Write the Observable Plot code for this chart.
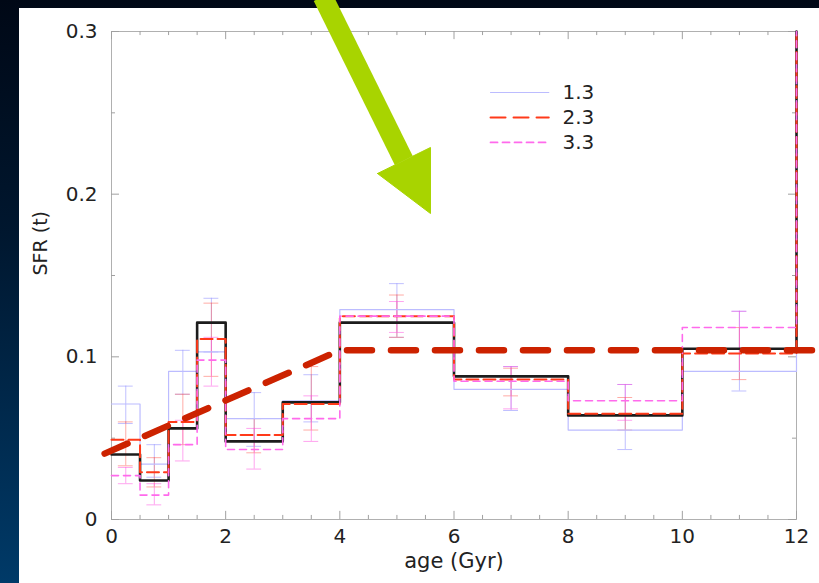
<!DOCTYPE html>
<html>
<head>
<meta charset="utf-8">
<script src="https://cdn.jsdelivr.net/npm/d3@7"></script>
<script src="https://cdn.jsdelivr.net/npm/@observablehq/plot@0.6"></script>
<style>
  html, body { margin: 0; padding: 0; width: 819px; height: 583px; overflow: hidden; }
  body { background: linear-gradient(to bottom, #000816 0%, #00172f 40%, #003a68 100%); position: relative; }
  #panel { position: absolute; left: 19px; top: 8px; right: 0; bottom: 0; background: #ffffff; }
  #chart { position: absolute; left: 0; top: 0; }
</style>
</head>
<body>
<div id="panel"></div>
<div id="chart"></div>
<script>
// ---- data ----
const binEdges = [0, 0.5, 1, 1.5, 2, 3, 4, 6, 8, 10, 12];
const binCenters = [0.25, 0.75, 1.25, 1.75, 2.5, 3.5, 5, 7, 9, 11];
const sfrBest = [0.040, 0.024, 0.056, 0.121, 0.048, 0.072, 0.121, 0.088, 0.064, 0.105];
const sfr13 = [0.071, 0.034, 0.091, 0.103, 0.062, 0.073, 0.129, 0.080, 0.055, 0.091];
const sfr23 = [0.049, 0.029, 0.060, 0.111, 0.052, 0.071, 0.125, 0.086, 0.065, 0.102];
const sfr33 = [0.027, 0.015, 0.046, 0.098, 0.043, 0.062, 0.125, 0.085, 0.073, 0.118];
const finalSpike = 0.3;
const err13Lo = [0.059, 0.026, 0.077, 0.103, 0.045, 0.060, 0.112, 0.067, 0.043, 0.079];
const err13Hi = [0.082, 0.046, 0.104, 0.136, 0.078, 0.089, 0.145, 0.094, 0.083, 0.128];
const err23Lo = [0.033, 0.020, 0.046, 0.088, 0.041, 0.055, 0.112, 0.076, 0.055, 0.086];
const err23Hi = [0.060, 0.038, 0.077, 0.133, 0.062, 0.094, 0.138, 0.093, 0.075, 0.118];
const err33Lo = [0.022, 0.009, 0.036, 0.082, 0.031, 0.048, 0.115, 0.068, 0.061, 0.091];
const err33Hi = [0.032, 0.022, 0.061, 0.112, 0.056, 0.076, 0.134, 0.094, 0.083, 0.128];
const trendX = [-0.12, 4, 12.4];
const trendY = [0.0405, 0.104, 0.104];
const arrowShaftX = [3.70, 5.12];
const arrowShaftY = [0.3215, 0.2207];
const arrowHeadX = [4.66, 5.588, 5.588];
const arrowHeadY = [0.2127, 0.2287, 0.1881];
const legendLabels = ["1.3", "2.3", "3.3"];
const legendY = [0.2625, 0.2471, 0.2318];
const xTicks = [0, 2, 4, 6, 8, 10, 12];
const yTicks = [0, 0.1, 0.2, 0.3];
const xLabel = "age (Gyr)";
const yLabel = "SFR (t)";

// ---- helpers ----
function steps(values) {
  const pts = binEdges.slice(0, -1).map((x, i) => ({x, y: values[i]}));
  pts.push({x: 12, y: values[values.length - 1]});
  pts.push({x: 12, y: finalSpike});
  return pts;
}
function errs(lo, hi) { return binCenters.map((x, i) => ({x, lo: lo[i], hi: hi[i]})); }
const pts = (xs, ys) => xs.map((x, i) => ({x, y: ys[i]}));

const C13 = "#bcbcff", C23 = "#ff3a1a", C33 = "#ff6aec";
const E13 = "rgba(150,150,255,0.6)", E23 = "rgba(255,90,80,0.5)", E33 = "rgba(255,90,225,0.55)";

function errMarks(data, color) {
  const cap = 0.13;
  return [
    Plot.ruleX(data, {x: "x", y1: "lo", y2: "hi", stroke: color, strokeWidth: 1}),
    Plot.ruleY(data, {y: "lo", x1: d => d.x - cap, x2: d => d.x + cap, stroke: color, strokeWidth: 1}),
    Plot.ruleY(data, {y: "hi", x1: d => d.x - cap, x2: d => d.x + cap, stroke: color, strokeWidth: 1})
  ];
}

const xMinor = d3.range(0, 12.01, 0.5);
const yMinor = d3.range(0, 0.301, 0.05);
const tickCol = "#a0a0a0";

const legendStyles = [
  {stroke: C13, dash: null, w: 1.2},
  {stroke: C23, dash: "15,8", w: 2},
  {stroke: C33, dash: "7,5", w: 1.8}
];

const chart = Plot.plot({
  width: 819,
  height: 583,
  marginLeft: 111,
  marginRight: 23,
  marginTop: 31,
  marginBottom: 64,
  x: {domain: [0, 12]},
  y: {domain: [0, 0.3]},
  style: {background: "transparent", overflow: "visible", fontFamily: "DejaVu Sans, sans-serif", fontSize: "20px", color: "#222"},
  marks: [
    Plot.frame({stroke: "#b0b0b0", strokeWidth: 1}),
    // inner ticks
    Plot.ruleX(xMinor, {x: d => d, y1: 0, y2: d => (d % 2 === 0 ? 0.005 : 0.0025), stroke: tickCol}),
    Plot.ruleX(xMinor, {x: d => d, y1: 0.3, y2: d => (d % 2 === 0 ? 0.295 : 0.2975), stroke: tickCol}),
    Plot.ruleY(yMinor, {y: d => d, x1: 0, x2: d => (Math.round(d * 100) % 10 === 0 ? 0.14 : 0.07), stroke: tickCol}),
    Plot.ruleY(yMinor, {y: d => d, x1: 12, x2: d => (Math.round(d * 100) % 10 === 0 ? 11.86 : 11.93), stroke: tickCol}),
    Plot.axisX({ticks: xTicks, tickSize: 0, tickPadding: 9, tickFormat: d => String(d), label: null}),
    Plot.axisY({ticks: yTicks, tickSize: 0, tickPadding: 14, tickFormat: d => (d === 0 ? "0" : d.toFixed(1)), label: null}),
    Plot.text([xLabel], {text: d => d, frameAnchor: "bottom", dy: 48, fontSize: 21, fill: "#222"}),
    Plot.text([yLabel], {text: d => d, frameAnchor: "left", dx: -71, rotate: -90, fontSize: 19, fill: "#222"}),
    // error bars
    ...errMarks(errs(err13Lo, err13Hi), E13),
    ...errMarks(errs(err23Lo, err23Hi), E23),
    ...errMarks(errs(err33Lo, err33Hi), E33),
    // step histories
    Plot.line(steps(sfr13), {x: "x", y: "y", curve: "step-after", stroke: C13, strokeWidth: 1.2}),
    Plot.line(steps(sfrBest), {x: "x", y: "y", curve: "step-after", stroke: "#1c1c1c", strokeWidth: 2.6}),
    Plot.line(steps(sfr23), {x: "x", y: "y", curve: "step-after", stroke: C23, strokeWidth: 2, strokeDasharray: "12,5"}),
    Plot.line(steps(sfr33), {x: "x", y: "y", curve: "step-after", stroke: C33, strokeWidth: 1.6, strokeDasharray: "7,5"}),
    // legend
    ...legendLabels.map((lab, i) => Plot.line([{x: 6.64, y: legendY[i]}, {x: 7.66, y: legendY[i]}],
      {x: "x", y: "y", stroke: legendStyles[i].stroke, strokeWidth: legendStyles[i].w, strokeDasharray: legendStyles[i].dash})),
    Plot.text(legendLabels, {x: 7.9, y: (d, i) => legendY[i], text: d => d, textAnchor: "start", fontSize: 20, fill: "#222"}),
    // thick trend
    Plot.line(pts(trendX, trendY), {x: "x", y: "y", stroke: "#cc2200", strokeWidth: 6.5, strokeDasharray: "25,19"}),
    // arrow
    Plot.line(pts(arrowShaftX, arrowShaftY), {x: "x", y: "y", stroke: "#a8d400", strokeWidth: 20, strokeLinecap: "butt"}),
    Plot.line(pts(arrowHeadX, arrowHeadY).concat([{x: arrowHeadX[0], y: arrowHeadY[0]}]), {x: "x", y: "y", fill: "#a8d400", stroke: "#a8d400", strokeWidth: 1})
  ]
});
document.getElementById("chart").appendChild(chart);
</script>
</body>
</html>
